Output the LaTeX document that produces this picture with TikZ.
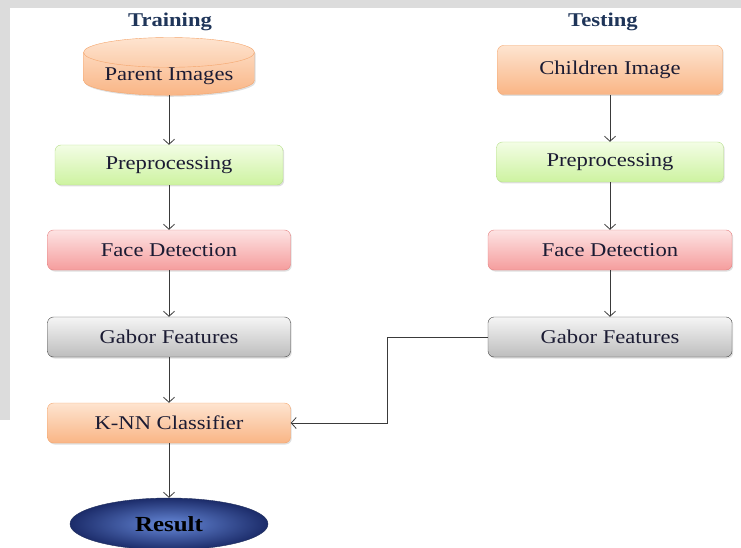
\documentclass[tikz,border=0pt]{standalone}
\usepackage{fontspec}
\setmainfont{Liberation Serif}[FakeStretch=1.16]
\usepackage{xcolor}
\usepackage{tikz}
\usetikzlibrary{shapes,arrows.meta,positioning,shadows}

\definecolor{txtc}{HTML}{1B1B33}
\definecolor{titc}{HTML}{1F3559}
\definecolor{linec}{HTML}{3A3A3A}
\definecolor{bgray}{HTML}{DCDCDC}
\definecolor{orline}{HTML}{F4A56C}
\definecolor{ortop}{HTML}{FEE4D0}
\definecolor{orbot}{HTML}{F9B585}
\definecolor{grline}{HTML}{B5DE8A}
\definecolor{grtop}{HTML}{F3FDE5}
\definecolor{grbot}{HTML}{CDF3A0}
\definecolor{rdline}{HTML}{E58080}
\definecolor{rdtop}{HTML}{FDE3E3}
\definecolor{rdbot}{HTML}{F59D9D}
\definecolor{gyline}{HTML}{484848}
\definecolor{gytop}{HTML}{F5F5F5}
\definecolor{gybot}{HTML}{BDBDBD}
\definecolor{resline}{HTML}{22305E}
\definecolor{resin}{HTML}{6688D8}
\definecolor{resout}{HTML}{1C2C6A}

\tikzset{
block/.style = {draw, rectangle, rounded corners=6pt, minimum height=40pt, text=txtc,
    font=\fontsize{19.5}{22}\selectfont,
    drop shadow={shadow xshift=1.2pt, shadow yshift=-1.5pt, opacity=0.25}},
orangeblock/.style = {block, draw=orline, top color=ortop, bottom color=orbot},
greenblock/.style = {block, draw=grline, top color=grtop, bottom color=grbot},
redblock/.style = {block, draw=rdline, top color=rdtop, bottom color=rdbot},
grayblock/.style = {block, draw=gyline, top color=gytop, bottom color=gybot},
db/.style = {cylinder, shape border rotate=90, aspect=0.22, inner ysep=0pt, draw=orline,
    top color=ortop, bottom color=orbot, minimum width=171pt, minimum height=52pt,
    text=txtc, font=\fontsize{19.5}{22}\selectfont,
    drop shadow={shadow xshift=1.2pt, shadow yshift=-1.5pt, opacity=0.25}},
res/.style = {ellipse, draw=resline, inner color=resin, outer color=resout,
    minimum width=198pt, minimum height=52pt, text=black,
    font=\bfseries\fontsize{21.5}{24}\selectfont},
title/.style = {text=titc, font=\bfseries\fontsize{19.5}{22}\selectfont},
arr/.style = {->, draw=linec, line width=0.8pt}
}

\begin{document}
\begin{tikzpicture}[x=1pt, y=-1pt, >={Straight Barb[length=5pt,width=11pt]}]
    \useasboundingbox (0,0) rectangle (741,548);
    \fill [bgray] (0,0) rectangle (741,8);
    \fill [bgray] (0,8) rectangle (10,420);

    % training side
    \node [title] (train) at (170,22) {Training};
    \node [db] (parent) at (169,76) {Parent Images};
    \node [greenblock, below of=parent, node distance=89pt, minimum width=228pt] (prep) {Preprocessing};
    \node [redblock, below of=prep, node distance=85pt, minimum width=243pt] (face) {Face Detection};
    \node [grayblock, below of=face, node distance=87pt, minimum width=243pt] (gabor) {Gabor Features};
    \node [orangeblock, below of=gabor, node distance=86pt, minimum width=243pt] (knn) {K-NN Classifier};
    \node [res, below of=knn, node distance=101pt] (result) {Result};

    % testing side
    \node [title] (test) at (603,22) {Testing};
    \node [orangeblock, minimum width=225pt, minimum height=49pt] (child) at (610,70) {Children Image};
    \node [greenblock, below of=child, node distance=92pt, minimum width=227pt] (prep2) {Preprocessing};
    \node [redblock, below of=prep2, node distance=88pt, minimum width=244pt] (face2) {Face Detection};
    \node [grayblock, below of=face2, node distance=87pt, minimum width=244pt] (gabor2) {Gabor Features};

    \draw [arr] (parent) -- (prep);
    \draw [arr] (prep) -- (face);
    \draw [arr] (face) -- (gabor);
    \draw [arr] (gabor) -- (knn);
    \draw [arr] (knn) -- (result);
    \draw [arr] (child) -- (prep2);
    \draw [arr] (prep2) -- (face2);
    \draw [arr] (face2) -- (gabor2);
    \draw [arr] (gabor2.west) -- ++(-100,0) |- (knn.east);
\end{tikzpicture}
\end{document}
